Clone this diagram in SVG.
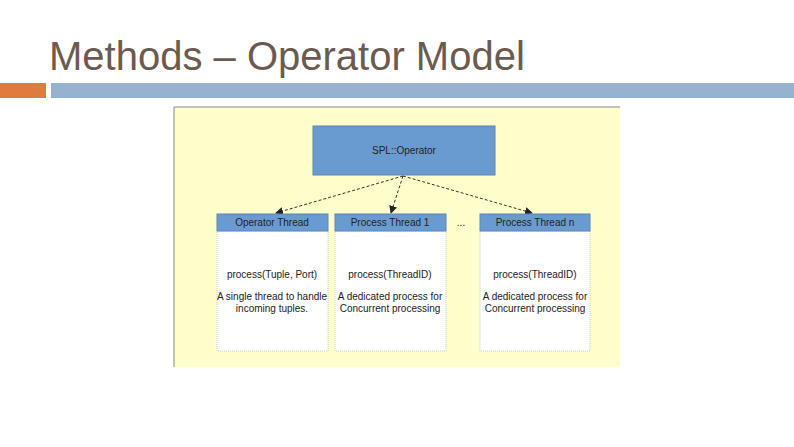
<svg xmlns="http://www.w3.org/2000/svg" width="794" height="447" viewBox="0 0 794 447">
<style>
.t{font-family:"Liberation Sans",Arial,sans-serif;fill:#222;font-size:10px;text-anchor:middle}
.hd{fill:#6a9bd0;stroke:#5a86b8}
.bd{fill:#fff;stroke:#ccc;stroke-dasharray:1 1}
.c{stroke:#333;stroke-dasharray:3 2;fill:none;marker-end:url(#a)}
</style>
<defs><marker id="a" markerWidth="8" markerHeight="8" refX="7" refY="4" orient="auto" markerUnits="userSpaceOnUse"><path d="M0,0 L8,4 L0,8z" fill="#222"/></marker></defs>
<rect width="794" height="447" fill="#fff"/>
<text x="49" y="70" font-family="Liberation Sans,Arial,sans-serif" font-size="40" fill="#6b5a4f">Methods – Operator Model</text>
<rect x="0" y="83" width="46" height="15" fill="#e07b3f"/>
<rect x="51" y="83" width="743" height="15" fill="#95b3d0"/>
<rect x="174" y="107" width="446" height="260" fill="#ffffcc"/>
<path d="M174,367 V107 H620" stroke="#888" fill="none"/>
<g id="spl"><rect x="313" y="126" width="182" height="49" fill="#6a9bd0" stroke="#5a86b8"/><text class="t" x="404" y="154">SPL::Operator</text></g>
<g id="connectors">
<path class="c" d="M403,176 L276,213"/>
<path class="c" d="M403,176 L391,213"/>
<path class="c" d="M403,176 L532,213"/>
</g>
<g id="n1"><rect class="bd" x="217" y="231" width="111" height="120"/><rect class="hd" x="217" y="214" width="111" height="17"/><text class="t" x="272" y="226">Operator Thread</text>
<text class="t" x="272" y="278">process(Tuple, Port)</text><text class="t" x="272" y="300">A single thread to handle</text><text class="t" x="272" y="312">incoming tuples.</text></g>
<g id="n2"><rect class="bd" x="335" y="231" width="111" height="120"/><rect class="hd" x="335" y="214" width="111" height="17"/><text class="t" x="390" y="226">Process Thread 1</text>
<text class="t" x="390" y="278">process(ThreadID)</text><text class="t" x="390" y="300">A dedicated process for</text><text class="t" x="390" y="312">Concurrent processing</text></g>
<text class="t" x="461" y="226">...</text>
<g id="n3"><rect class="bd" x="480" y="231" width="110" height="120"/><rect class="hd" x="480" y="214" width="110" height="17"/><text class="t" x="535" y="226">Process Thread n</text>
<text class="t" x="535" y="278">process(ThreadID)</text><text class="t" x="535" y="300">A dedicated process for</text><text class="t" x="535" y="312">Concurrent processing</text></g>
</svg>
